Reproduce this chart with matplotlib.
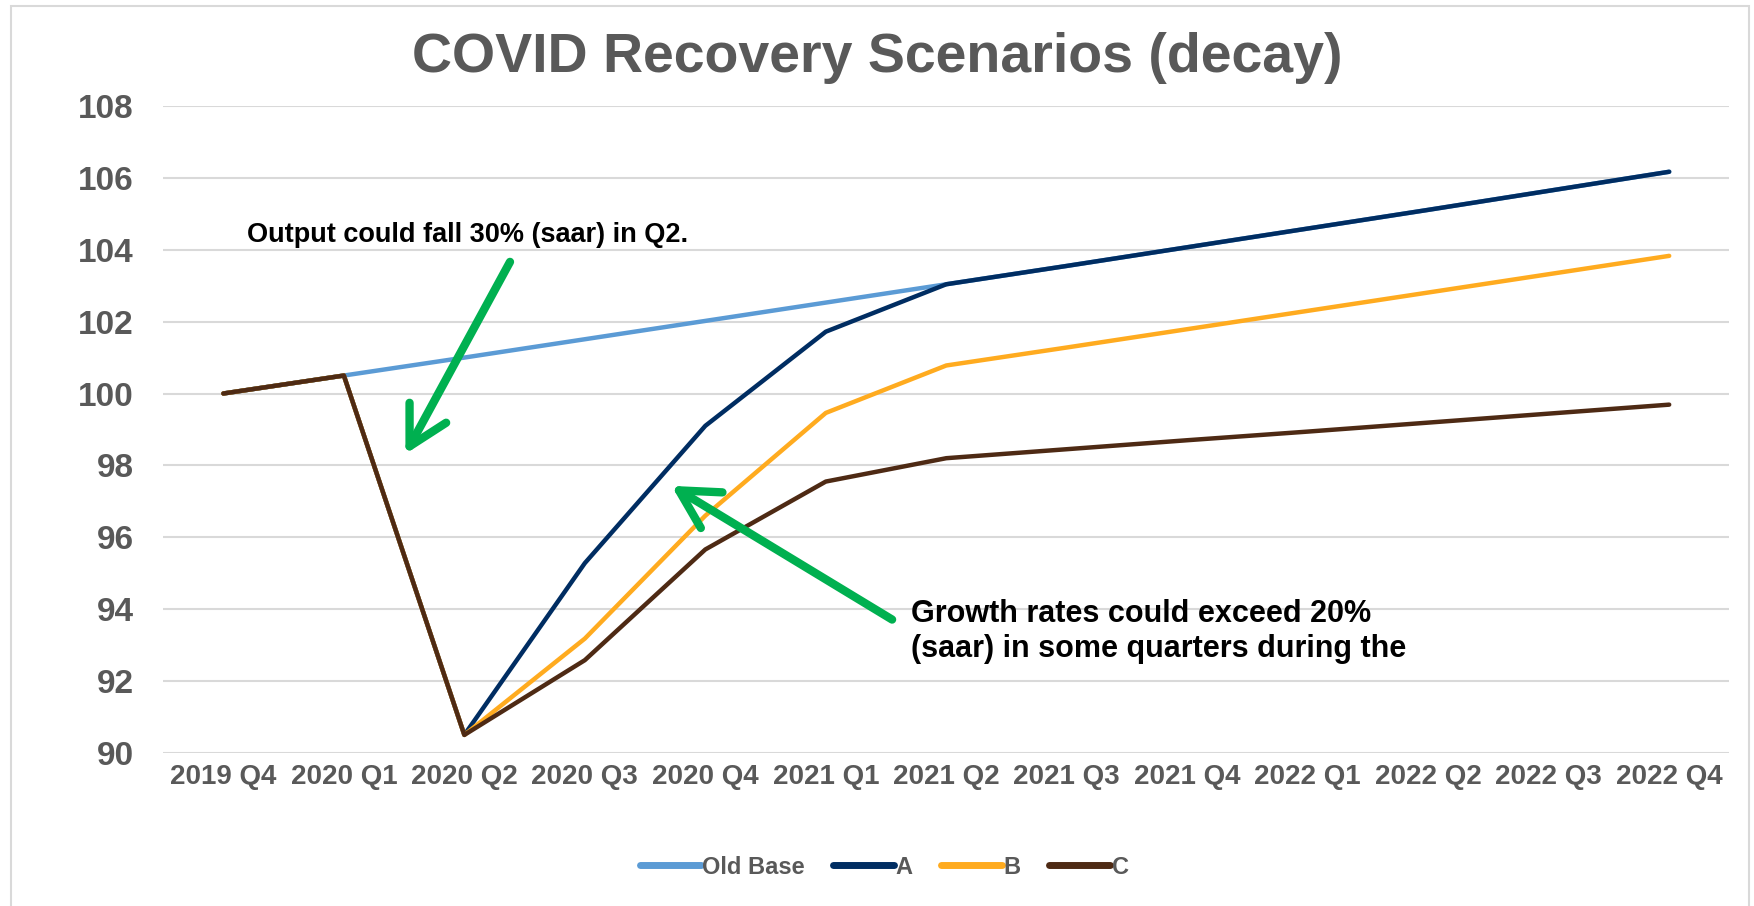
import matplotlib.pyplot as plt
from matplotlib.patches import Rectangle

# Quarterly output index, 2019 Q4 = 100
quarters = ["2019 Q4", "2020 Q1", "2020 Q2", "2020 Q3", "2020 Q4", "2021 Q1", "2021 Q2",
            "2021 Q3", "2021 Q4", "2022 Q1", "2022 Q2", "2022 Q3", "2022 Q4"]
old_base = [100.0, 100.5, 101.0, 101.51, 102.02, 102.53, 103.04,
            103.55, 104.07, 104.59, 105.11, 105.64, 106.17]
scen_a = [100.0, 100.5, 90.5, 95.28, 99.1, 101.72, 103.04,
          103.55, 104.07, 104.59, 105.11, 105.64, 106.17]
scen_b = [100.0, 100.5, 90.5, 93.18, 96.6, 99.46, 100.78,
          101.28, 101.79, 102.3, 102.81, 103.32, 103.83]
scen_c = [100.0, 100.5, 90.5, 92.58, 95.66, 97.55, 98.2,
          98.45, 98.7, 98.94, 99.19, 99.44, 99.69]

series = [("Old Base", old_base, "#5B9BD5"),
          ("A", scen_a, "#002D62"),
          ("B", scen_b, "#FFAB1F"),
          ("C", scen_c, "#4E2A14")]

plt.rcParams['font.family'] = ['Liberation Sans', 'DejaVu Sans']
grey = "#595959"
green = "#00B050"

fig = plt.figure(figsize=(17.54, 9.06), dpi=100)
fig.patches.append(Rectangle((0.006, -0.02), 0.991, 1.0134, transform=fig.transFigure,
                             fill=False, edgecolor="#D9D9D9", linewidth=1.5))
ax = fig.add_axes([0.093, 0.169, 0.893, 0.714])

x = list(range(len(quarters)))
for name, vals, col in series:
    ax.plot(x, vals, color=col, lw=3.2, label=name, solid_capstyle='round',
            solid_joinstyle='round')

ax.set_xlim(-0.5, len(quarters) - 0.5)
ax.set_ylim(90, 108)
ax.set_yticks(range(90, 109, 2))
ax.set_xticks(x)
ax.set_xticklabels(quarters)
ax.yaxis.grid(True, color="#D9D9D9", lw=1.5)
ax.set_axisbelow(True)
for s in ax.spines.values():
    s.set_visible(False)
ax.tick_params(axis='y', length=0, pad=21, labelsize=24, labelcolor=grey)
ax.tick_params(axis='x', length=0, pad=8, labelsize=20, labelcolor=grey)
for lab in ax.get_xticklabels() + ax.get_yticklabels():
    lab.set_fontweight('bold')

fig.text(0.5, 0.936, "COVID Recovery Scenarios (decay)", ha='center', va='center',
         fontsize=40, fontweight='bold', color=grey)

# call-outs with green arrows
arrow_kw = dict(arrowstyle="->,head_length=1.1,head_width=0.6", color=green, lw=6,
                mutation_scale=25, capstyle='round', joinstyle='round')
ax.text(0.2, 104.42, "Output could fall 30% (saar) in Q2.", fontsize=19.5,
        fontweight='bold', color='black', va='center')
ax.annotate("", xy=(1.5, 98.25), xytext=(2.39, 103.73), arrowprops=arrow_kw)
ax.text(5.71, 93.38, "Growth rates could exceed 20%\n(saar) in some quarters during the",
        fontsize=22, fontweight='bold', color='black', va='center', linespacing=1.2)
ax.annotate("", xy=(3.7, 97.47), xytext=(5.57, 93.67), arrowprops=arrow_kw)

leg = fig.legend(loc='center', bbox_to_anchor=(0.504, 0.043), ncol=4, frameon=False,
                 fontsize=17, handlelength=2.6, handletextpad=0.05, columnspacing=1.2)
for t in leg.get_texts():
    t.set_color(grey)
    t.set_fontweight('bold')
for h in leg.legend_handles:
    h.set_linewidth(5)
    h.set_solid_capstyle('round')

fig.savefig("out.png", dpi=100, facecolor='white')
